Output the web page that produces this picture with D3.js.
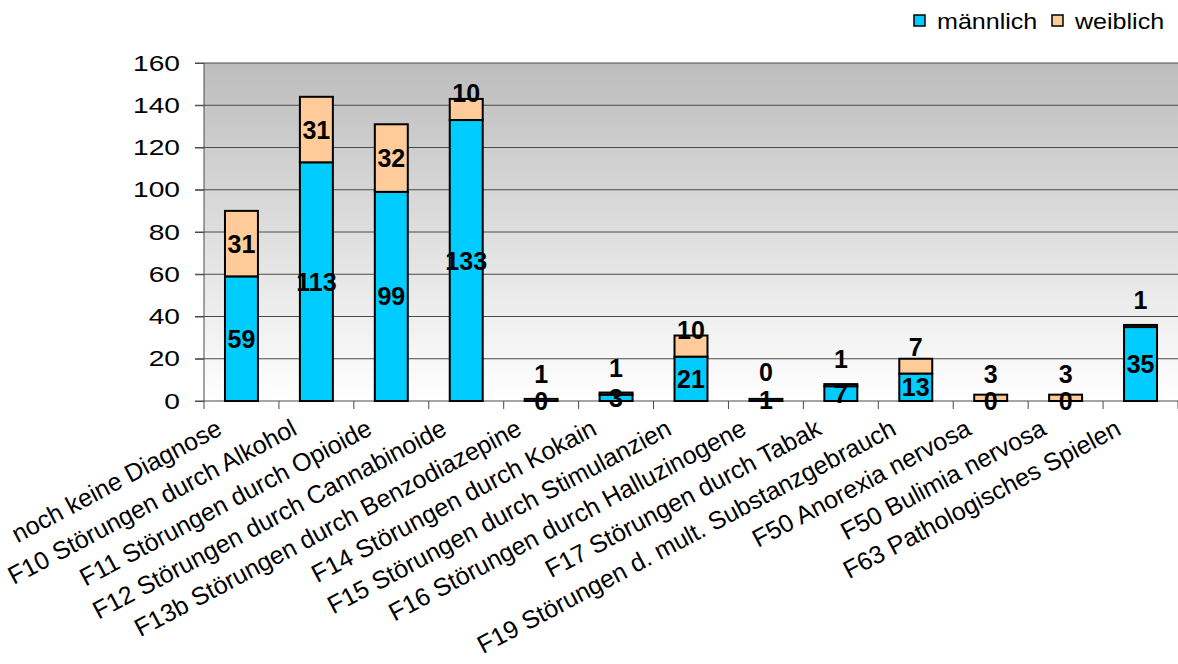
<!DOCTYPE html>
<html><head><meta charset="utf-8">
<script src="https://cdn.jsdelivr.net/npm/d3@7/dist/d3.min.js"></script>
<style>
body{margin:0;background:#fff;}
svg{display:block;font-family:"Liberation Sans",Arial,Helvetica,sans-serif;}
</style></head>
<body>
<svg id="c" width="1178" height="664"></svg>
<script>
const categories = ["noch keine Diagnose","F10 Störungen durch Alkohol","F11 Störungen durch Opioide","F12 Störungen durch Cannabinoide","F13b Störungen durch Benzodiazepine","F14 Störungen durch Kokain","F15 Störungen durch Stimulanzien","F16 Störungen durch Halluzinogene","F17 Störungen durch Tabak","F19 Störungen d. mult. Substanzgebrauch","F50 Anorexia nervosa","F50 Bulimia nervosa","F63 Pathologisches Spielen"];
const maennlich = [59,113,99,133,0,3,21,1,7,13,0,0,35];
const weiblich = [31,31,32,10,1,1,10,0,1,7,3,3,1];
const seriesNames = ["männlich","weiblich"];
const yTicks = [0,20,40,60,80,100,120,140,160];

const colors = ["#00ccff","#ffcc99"];
const svg = d3.select("#c");
const m = {left:204, right:0, top:63, bottom:263};
const W = 1178, H = 664;
const x = d3.scaleBand().domain(categories).range([m.left, W - m.right]).paddingInner(0.56).paddingOuter(0.28);
const y = d3.scaleLinear().domain([0,160]).range([H - m.bottom, m.top]);

const defs = svg.append("defs");
const g = defs.append("linearGradient").attr("id","bg").attr("x1",0).attr("y1",0).attr("x2",0).attr("y2",1);
g.append("stop").attr("offset","0%").attr("stop-color","#bdbdbd");
g.append("stop").attr("offset","100%").attr("stop-color","#ffffff");

svg.append("rect").attr("x",m.left).attr("y",y(160)).attr("width",W-m.right-m.left).attr("height",y(0)-y(160)).attr("fill","url(#bg)");

// gridlines
svg.append("g").selectAll("line").data(yTicks.filter(t=>t>0)).join("line")
  .attr("x1",m.left-9).attr("x2",W-m.right).attr("y1",d=>y(d)).attr("y2",d=>y(d))
  .attr("stroke","#4a4a4a").attr("stroke-width",1);

// y axis
const yAxis = d3.axisLeft(y).tickValues(yTicks).tickSize(9).tickPadding(14);
const ya = svg.append("g").attr("transform",`translate(${m.left},0)`).call(yAxis);
ya.select(".domain").attr("stroke","#4a4a4a").attr("d",`M-9,${y(0)}H0V${y(160)}`);
ya.selectAll(".tick line").attr("stroke","#4a4a4a");
const sx = 1.28;
ya.selectAll("text").attr("font-size",22).attr("fill","#000").attr("font-family","'Liberation Sans',Arial,sans-serif")
  .attr("x",-24/sx).attr("transform",`scale(${sx},1)`);

// x axis line + ticks at category boundaries
const step = x.step();
const bounds = d3.range(categories.length+1).map(i=>m.left + i*step);
svg.append("line").attr("x1",m.left).attr("x2",W-m.right).attr("y1",y(0)).attr("y2",y(0)).attr("stroke","#4a4a4a");
svg.append("g").selectAll("line").data(bounds).join("line")
  .attr("x1",d=>d).attr("x2",d=>d).attr("y1",y(0)).attr("y2",y(0)+8).attr("stroke","#4a4a4a");

// stacked data
const rows = categories.map((c,i)=>({cat:c, m:maennlich[i], w:weiblich[i]}));
const stack = d3.stack().keys(["m","w"])(rows);

svg.append("g").selectAll("g").data(stack).join("g")
  .attr("fill",(d,i)=>colors[i])
  .selectAll("rect").data(d=>d).join("rect")
  .attr("x",d=>x(d.data.cat)).attr("width",x.bandwidth())
  .attr("y",d=>y(d[1])).attr("height",d=>y(d[0])-y(d[1]))
  .attr("stroke","#000").attr("stroke-width",2);

// labels
const lab = svg.append("g").attr("font-weight","bold").attr("font-size",25).attr("text-anchor","middle").attr("fill","#000");
lab.selectAll("text.m").data(rows).join("text").attr("class","m")
  .attr("x",d=>x(d.cat)+x.bandwidth()/2).attr("y",d=>y(d.m/2)).attr("dy","0.36em").text(d=>d.m);
lab.selectAll("text.w").data(rows).join("text").attr("class","w")
  .attr("x",d=>x(d.cat)+x.bandwidth()/2)
  .attr("y",d=>Math.min(y(d.m + d.w/2), y(d.m)-27)).attr("dy","0.36em").text(d=>d.w);

// category labels
svg.append("g").selectAll("text").data(categories).join("text")
  .attr("transform",d=>`translate(${x(d)+x.bandwidth()/2-22},${y(0)+25}) rotate(-28)`)
  .attr("text-anchor","end").attr("dy","0.35em").attr("font-size",25).attr("fill","#000").text(d=>d);

// legend
const lg = svg.append("g").attr("font-size",22);
const lx = [914, 1052];
const lsx = 1.14;
seriesNames.forEach((s,i)=>{
  lg.append("rect").attr("x",lx[i]).attr("y",15).attr("width",11).attr("height",11).attr("fill",colors[i]).attr("stroke","#000").attr("stroke-width",1.5);
  lg.append("text").attr("x",(lx[i]+23)/lsx).attr("y",21).attr("dy","0.35em").attr("transform",`scale(${lsx},1)`).text(s);
});
</script>
</body></html>
